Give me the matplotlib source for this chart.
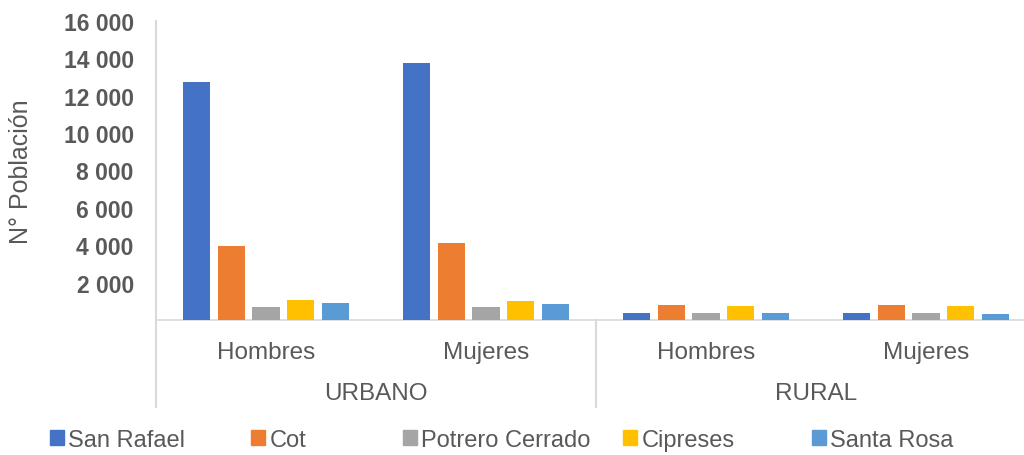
import matplotlib.pyplot as plt
import numpy as np
from matplotlib.lines import Line2D
from matplotlib.patches import Patch
from matplotlib.ticker import FuncFormatter

plt.rcParams["font.family"] = ["Liberation Sans", "DejaVu Sans"]

areas = ["URBANO", "RURAL"]
sexes = ["Hombres", "Mujeres"]
series = ["San Rafael", "Cot", "Potrero Cerrado", "Cipreses", "Santa Rosa"]
colors = ["#4472C4", "#ED7D31", "#A5A5A5", "#FFC000", "#5B9BD5"]

# order: URBANO-Hombres, URBANO-Mujeres, RURAL-Hombres, RURAL-Mujeres
san_rafael = [12720, 13740, 400, 400]
cot = [3950, 4120, 820, 790]
potrero_cerrado = [700, 720, 360, 360]
cipreses = [1070, 1000, 730, 730]
santa_rosa = [910, 860, 360, 340]
values = [san_rafael, cot, potrero_cerrado, cipreses, santa_rosa]

grey = "#595959"
line_col = "#D9D9D9"

fig = plt.figure(figsize=(10.24, 4.56), dpi=100)
ax = fig.add_axes([156 / 1024, 1 - 321 / 456, 880 / 1024, 299 / 456])

x = np.arange(len(areas) * len(sexes))
width = 0.1245
step = 0.1577
for i, (name, vals, c) in enumerate(zip(series, values, colors)):
    ax.bar(x + (i - 2) * step, vals, width=width, color=c, label=name, zorder=3)

ax.set_xlim(-0.5, 3.5)
ax.set_ylim(0, 16000)
ax.set_yticks(np.arange(2000, 16001, 2000))
ax.yaxis.set_major_formatter(FuncFormatter(lambda v, p: f"{int(v):,}".replace(",", " ")))
for lab in ax.get_yticklabels():
    lab.set_fontweight("bold")
ax.tick_params(axis="y", length=0, labelsize=16.5, labelcolor=grey, pad=16)
ax.tick_params(axis="x", length=0, labelbottom=False)
for s in ["top", "right", "left"]:
    ax.spines[s].set_visible(False)
ax.spines["bottom"].set_color(line_col)
ax.spines["bottom"].set_linewidth(1.2)

ax.set_ylabel("N° Población", fontsize=18, color=grey, labelpad=22)

# hierarchical x axis
trans = ax.get_xaxis_transform()
ax.add_line(Line2D([-0.5, -0.5], [1.0, -0.29], transform=trans, color=line_col,
                   lw=1.5, clip_on=False))
for xb in [1.5, 3.5]:
    ax.add_line(Line2D([xb, xb], [0, -0.29], transform=trans, color=line_col,
                       lw=1.5, clip_on=False))
for k, xi in enumerate(x):
    ax.text(xi, -0.106, sexes[k % 2], transform=trans, ha="center", va="center",
            fontsize=17.5, color=grey)
for j, area in enumerate(areas):
    ax.text(2 * j + 0.5, -0.245, area, transform=trans, ha="center", va="center",
            fontsize=17.5, color=grey)

# legend entries placed one by one, as in the original layout
legend_x = [50, 251, 403, 623, 812]
for name, c, lx in zip(series, colors, legend_x):
    fig.legend(handles=[Patch(color=c, label=name)], loc="center left",
               bbox_to_anchor=(lx / 1024, 1 - 441 / 456), frameon=False,
               fontsize=17, labelcolor=grey, handlelength=0.58,
               handleheight=0.58, handletextpad=0.2, borderpad=0,
               borderaxespad=0)

fig.savefig("out.png", dpi=100)
